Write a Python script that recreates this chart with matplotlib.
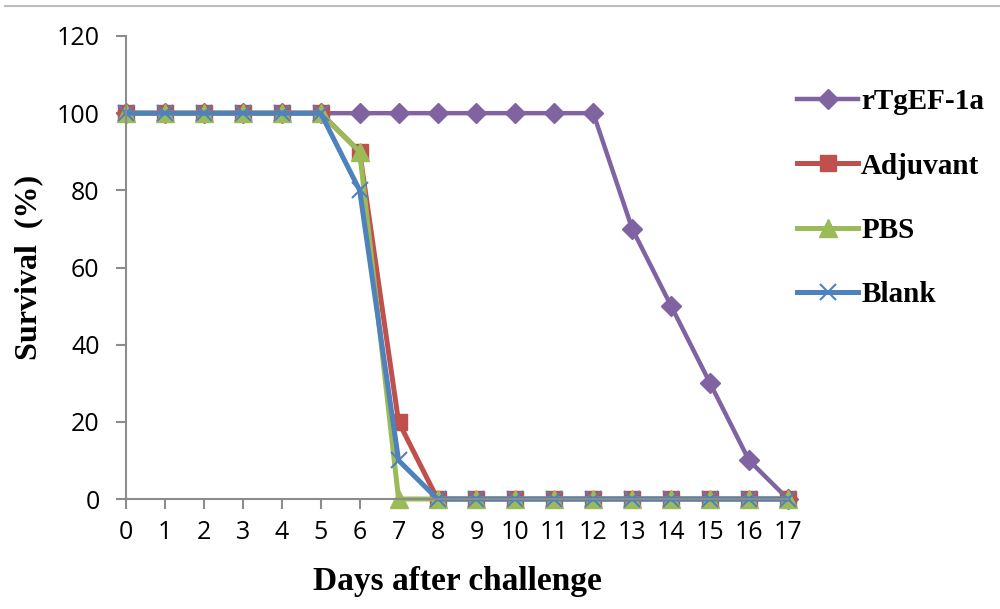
"""
Survival curves after challenge for the immunised groups.
"""

import matplotlib.pyplot as plt
from matplotlib.lines import Line2D

days = list(range(18))

rtgef_1a = [100, 100, 100, 100, 100, 100, 100, 100, 100, 100, 100, 100, 100, 70, 50, 30, 10, 0]
adjuvant = [100, 100, 100, 100, 100, 100, 90, 20, 0, 0, 0, 0, 0, 0, 0, 0, 0, 0]
pbs = [100, 100, 100, 100, 100, 100, 90, 0, 0, 0, 0, 0, 0, 0, 0, 0, 0, 0]
blank = [100, 100, 100, 100, 100, 100, 80, 10, 0, 0, 0, 0, 0, 0, 0, 0, 0, 0]

y_ticks = [0, 20, 40, 60, 80, 100, 120]

SERIF = ["Liberation Serif", "DejaVu Serif"]
SANS = ["Open Sans", "DejaVu Sans"]

fig = plt.figure(figsize=(10, 6.09), dpi=100)
ax = fig.add_axes([0.126, 0.1806, 0.662, 0.7603])

ax.plot(days, rtgef_1a, color="#8064A2", lw=3.2, marker="D", ms=10, label="rTgEF-1a", clip_on=False)
ax.plot(days, adjuvant, color="#C0504D", lw=3.6, marker="s", ms=11.5, label="Adjuvant", clip_on=False)
ax.plot(days, pbs, color="#9BBB59", lw=3.6, marker="^", ms=12.5, label="PBS", clip_on=False)
ax.plot(days, blank, color="#4F81BD", lw=3.6, marker="x", ms=12, mew=1.5, label="Blank", clip_on=False)

ax.set_xlim(0, 17)
ax.set_ylim(0, 120)
ax.set_xticks(days)
ax.set_yticks(y_ticks)

for side in ["top", "right"]:
    ax.spines[side].set_visible(False)
for side in ["left", "bottom"]:
    ax.spines[side].set_color("#8c8c8c")
    ax.spines[side].set_linewidth(1.5)

ax.tick_params(axis="both", direction="out", length=7, width=1.5, color="#8c8c8c")
ax.tick_params(axis="y", pad=12)
ax.tick_params(axis="x", pad=8)
for lbl in ax.get_xticklabels() + ax.get_yticklabels():
    lbl.set_family(SANS)
    lbl.set_fontsize(18)

ax.set_xlabel("Days after challenge", family=SERIF, fontweight="bold", fontsize=24, labelpad=15)
ax.set_ylabel("Survival  (%)", family=SERIF, fontweight="bold", fontsize=23, labelpad=10)

ax.legend(
    loc="upper left",
    bbox_to_anchor=(0.797, 0.855),
    bbox_transform=fig.transFigure,
    frameon=False,
    borderpad=0,
    borderaxespad=0,
    prop={"family": SERIF, "weight": "bold", "size": 21},
    labelspacing=1.28,
    handlelength=2.1,
    handletextpad=0.1,
)

# thin grey rule along the top of the picture
fig.add_artist(Line2D([0.005, 1.0], [0.99, 0.99], color="#bdbdbd", lw=1.5, transform=fig.transFigure))

plt.savefig("out.png", dpi=100)
print("[PLOT] Saved to out.png")
